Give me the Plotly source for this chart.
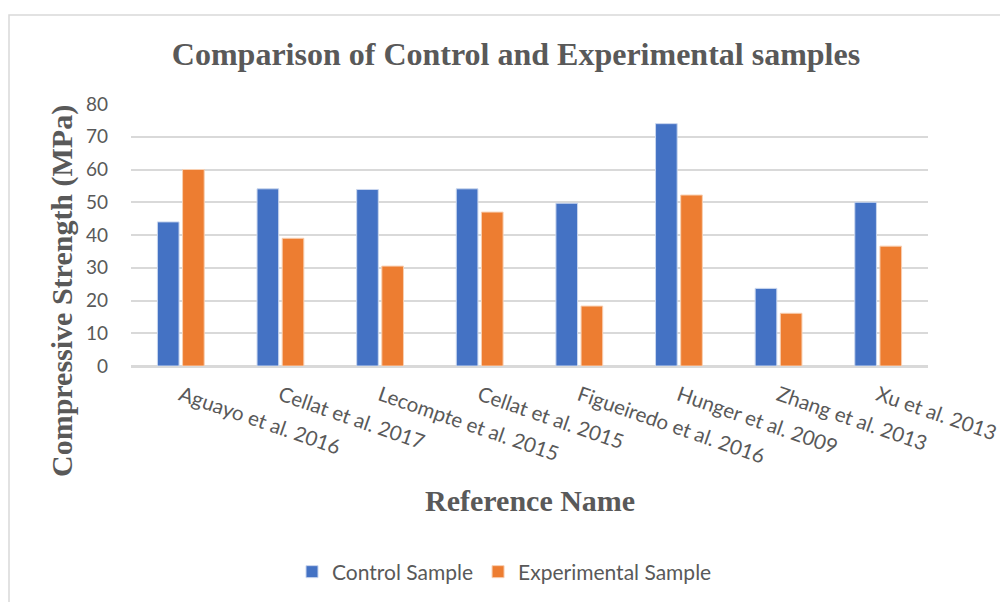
import plotly.graph_objects as go

# Reference names on the x axis
references = [
    "Aguayo et al. 2016", "Cellat et al. 2017", "Lecompte et al. 2015",
    "Cellat et al. 2015", "Figueiredo et al. 2016", "Hunger et al. 2009",
    "Zhang et al. 2013", "Xu et al. 2013",
]
# Compressive strength in MPa
control_sample = [44.0, 54.1, 53.9, 54.1, 49.7, 74.0, 23.7, 50.0]
experimental_sample = [60.0, 39.0, 30.5, 47.0, 18.3, 52.2, 16.1, 36.6]
y_ticks = [0, 10, 20, 30, 40, 50, 60, 70, 80]

BLUE = "#4472C4"
ORANGE = "#ED7D31"
GREY_TEXT = "#595959"
GRID = "#d9d9d9"
SANS = "Lato, Open Sans, sans-serif"
SERIF = "Liberation Serif, Times New Roman, serif"

fig = go.Figure()
fig.add_trace(go.Bar(
    x=references, y=control_sample, name="Control Sample",
    marker=dict(color=BLUE, line=dict(color="#c9d6ee", width=1)),
))
fig.add_trace(go.Bar(
    x=references, y=experimental_sample, name="Experimental Sample",
    marker=dict(color=ORANGE, line=dict(color="#f8cfb1", width=1)),
))

# the page body adds an 8px margin, so the figure is a bit smaller
OFF = 8
W, H = 1008 - OFF, 602 - OFF
L, R, T, B = 131 - OFF, 80, 104 - OFF, 236
pw, ph = W - L - R, H - T - B


def px_x(px):
    # page pixel -> paper fraction
    return (px - OFF - L) / pw


def px_y(py):
    return (H - B - (py - OFF)) / ph


fig.update_layout(
    width=W, height=H,
    margin=dict(l=L, r=R, t=T, b=B, autoexpand=False),
    paper_bgcolor="white", plot_bgcolor="white",
    barmode="group", bargap=0.495, bargroupgap=0.14,
    font=dict(family=SANS, color=GREY_TEXT, size=19),
    title=dict(
        text="<b>Comparison of Control and Experimental samples</b>",
        font=dict(family=SERIF, size=32, color=GREY_TEXT),
        x=px_x(516), xref="paper", xanchor="center",
        y=1 - (56 - OFF - 2) / H, yref="container", yanchor="middle",
    ),
    xaxis=dict(
        tickangle=19, showgrid=False, automargin=False,
        showline=True, linecolor=GRID, linewidth=1.5,
        ticklabelstandoff=8,
        tickfont=dict(family=SANS, size=20.5, color=GREY_TEXT),
    ),
    yaxis=dict(
        range=[0, 80], tickvals=y_ticks, automargin=False,
        showgrid=True, gridcolor=GRID, gridwidth=1.5,
        zeroline=True, zerolinecolor=GRID, zerolinewidth=1.5,
        ticklabelstandoff=22,
        tickfont=dict(family=SANS, size=19, color=GREY_TEXT),
    ),
    annotations=[
        dict(text="<b>Compressive Strength (MPa)</b>", textangle=-90,
             xref="paper", yref="paper", x=px_x(62), y=px_y(291),
             xanchor="center", yanchor="middle", showarrow=False,
             font=dict(family=SERIF, size=30, color=GREY_TEXT)),
        dict(text="<b>Reference Name</b>",
             xref="paper", yref="paper", x=px_x(530), y=px_y(500),
             xanchor="center", yanchor="middle", showarrow=False,
             font=dict(family=SERIF, size=30, color=GREY_TEXT)),
    ],
    legend=dict(
        orientation="h", x=px_x(292), xanchor="left",
        y=1 - (572 - OFF) / H, yref="container", yanchor="middle",
        font=dict(family=SANS, size=21, color=GREY_TEXT),
        itemwidth=30, traceorder="normal",
    ),
    shapes=[dict(
        type="rect", xref="paper", yref="paper",
        x0=px_x(OFF + 1), x1=px_x(1030), y0=px_y(650), y1=px_y(15),
        line=dict(color="#d9d9d9", width=1.5), fillcolor="rgba(0,0,0,0)",
        layer="below",
    )],
)

fig.write_html("out.html")
